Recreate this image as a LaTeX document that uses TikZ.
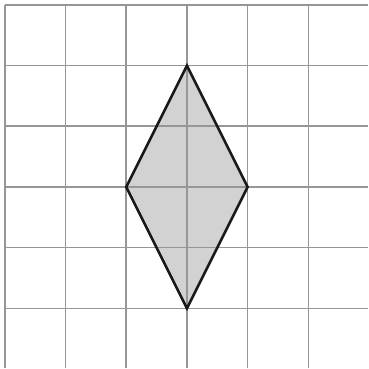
\documentclass[tikz,border=0pt]{standalone}
\usepackage{tikz}
\usepackage{xcolor}
\definecolor{gridgrey}{RGB}{150,150,150}
\definecolor{shapegrey}{RGB}{210,210,211}
\tikzset{
    gridline/.style={draw=gridgrey, line width=0.7pt},
    rhombus/.style={draw=black!90, fill=shapegrey, line width=1.2pt, line join=miter}
}
\begin{document}
\begin{tikzpicture}
    \useasboundingbox (-0.08,0) rectangle (5.99,6.08);
    \fill[white] (-0.08,0) rectangle (5.99,6.08);
    \coordinate (top) at (3,5);
    \coordinate (left) at (2,3);
    \coordinate (bottom) at (3,1);
    \coordinate (right) at (4,3);
    \fill[shapegrey] (top) -- (left) -- (bottom) -- (right) -- cycle;
    \draw[gridline] (0,0.01) grid (5.99,6);
    \draw[rhombus, fill=none] (top) -- (left) -- (bottom) -- (right) -- cycle;
\end{tikzpicture}
\end{document}
